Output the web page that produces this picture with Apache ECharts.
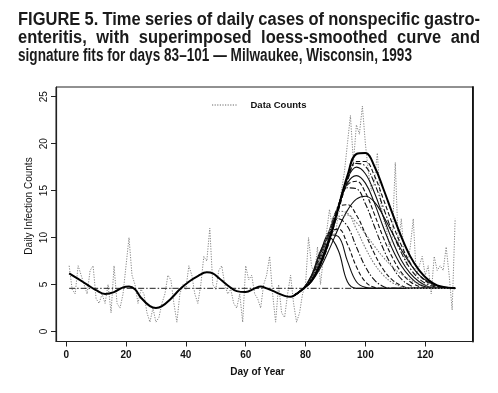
<!DOCTYPE html>
<html><head><meta charset="utf-8">
<script src="https://cdn.jsdelivr.net/npm/echarts@6/dist/echarts.min.js"></script>
<style>html,body{margin:0;padding:0;background:#fff}#c{width:498px;height:393px}</style>
</head><body><div id="c"></div>
<script>
// ---------- data ----------
const titleLines = [
  "FIGURE 5. Time series of daily cases of nonspecific gastro-",
  "enteritis, with superimposed loess-smoothed curve and",
  "signature fits for days 83\u2013101 \u2014 Milwaukee, Wisconsin, 1993"
];
const xTicks = [0, 20, 40, 60, 80, 100, 120];
const yTicks = [0, 5, 10, 15, 20, 25];
const xName = "Day of Year";
const yName = "Daily Infection Counts";
const legendName = "Data Counts";

// daily counts, days 1..130
const countDays = [];
for (let d = 1; d <= 130; d++) countDays.push(d);
const counts = [
  7, 4.5, 4, 7, 6, 5, 4, 6.5, 7, 3.5,
  3, 4, 3, 5, 2, 7, 3, 2.5, 4, 7,
  10, 6, 5, 3, 4.5, 4, 2, 1, 2.5, 1,
  1.5, 3, 4, 6, 5.5, 3, 1, 4, 5, 4.5,
  7, 6, 4, 3, 5, 8, 7.5, 11, 5, 4.5,
  6.5, 7, 5, 4, 4.5, 3, 2.5, 4, 1, 7,
  5.5, 6, 4, 3.5, 2.5, 5, 6, 8, 4, 1,
  5, 2, 1.5, 4, 6, 3, 1, 2, 4, 5,
  10, 7, 6, 9, 5, 8, 10.5, 13, 11, 10,
  13, 15, 17, 20, 23, 18, 22, 21, 24, 20,
  17, 15, 16, 19, 14, 12, 11, 9, 10, 18,
  9, 12, 8, 7, 9, 12, 6, 7, 8, 6,
  7, 4, 8, 6.5, 7, 6.5, 9, 6, 2.3, 12
];

// loess-smoothed curve
const loessDays = [1,4,7,10,13,16,19,21,23,25,28,30,32,35,38,41,44,47,49,51,54,57,60,63,65,67,70,73,75,76,79,82,85,88,91,94,97,100,103,106,109,112,115,118,121,124,127,130];
const loessVals = [6.2,5.6,5.0,4.4,4.0,4.2,4.7,4.8,4.5,3.6,2.7,2.5,2.7,3.5,4.5,5.3,5.9,6.3,6.2,5.7,4.9,4.3,4.2,4.6,4.8,4.6,4.2,3.8,3.7,3.8,4.5,5.4,7.2,9.8,13.2,16.6,18.9,19.0,17.6,15.2,12.6,10.1,8.0,6.5,5.5,4.9,4.7,4.6];

// baseline
const baseDays = [1, 130];
const baseVal = 4.6;

// signature fits (days 83-101)
const fitDays = [76,79,82,85,88,91,94,97,100,103,106,109,112,115,118,121,124,127,130];
const fitA = [3.8,4.5,5.4,7.1,9.6,12.9,16.0,18.1,18.1,16.6,14.1,11.5,9.2,7.3,6.0,5.2,4.8,4.6,4.6];
const fitB = [3.8,4.5,5.4,7.2,9.8,13.2,16.3,17.9,17.6,15.8,13.2,10.6,8.4,6.7,5.6,5.0,4.7,4.6,4.6];
const fitC = [3.8,4.5,5.5,7.3,10.0,13.4,16.3,17.5,16.8,14.8,12.2,9.7,7.6,6.2,5.3,4.8,4.6,4.6,4.6];
const fitD = [3.8,4.5,5.5,7.4,10.1,13.2,15.8,16.6,15.8,13.7,11.1,8.8,7.0,5.8,5.0,4.7,4.6,4.6,4.6];
const fitE = [3.8,4.5,5.5,7.5,10.3,13.4,15.6,16.0,14.8,12.5,10.0,7.9,6.3,5.3,4.8,4.6,4.6,4.6,4.6];
const fitF = [3.8,4.5,5.6,7.6,10.5,13.5,15.3,15.2,13.6,11.2,8.8,6.9,5.6,4.9,4.6,4.6,4.6,4.6,4.6];
const fitG = [3.8,4.5,5.3,6.8,8.8,11.0,12.9,14.1,14.4,13.8,12.3,10.5,8.7,7.2,6.0,5.3,4.9,4.7,4.6];
const fitH = [3.8,4.5,5.6,7.8,10.8,13.2,13.5,12.4,10.4,8.3,6.6,5.5,4.9,4.6,4.6,4.6,4.6,4.6,4.6];
const fitI = [3.8,4.5,5.6,7.7,10.3,12.2,12.4,11.6,10.4,9.1,7.9,6.9,6.1,5.5,5.1,4.8,4.6,4.6,4.6];
const fitJ = [3.8,4.5,5.7,8.0,10.8,12.0,11.2,9.0,6.9,5.5,4.8,4.6,4.6,4.6,4.6,4.6,4.6,4.6,4.6];
const fitK = [3.8,4.5,5.8,8.2,10.5,10.9,9.3,6.9,5.3,4.7,4.6,4.6,4.6,4.6,4.6,4.6,4.6,4.6,4.6];
const fitL = [3.8,4.5,5.9,8.4,10.3,10.1,7.5,5.3,4.7,4.6,4.6,4.6,4.6,4.6,4.6,4.6,4.6,4.6,4.6];
const fitM = [3.8,4.5,6.0,8.6,10.0,8.6,5.3,4.6,4.6,4.6,4.6,4.6,4.6,4.6,4.6,4.6,4.6,4.6,4.6];
const fitN = [3.8,4.5,5.6,7.9,10.9,12.8,12.6,10.9,8.9,7.2,6.0,5.2,4.8,4.6,4.6,4.6,4.6,4.6,4.6];

// ---------- build ----------
const FONT = '"Liberation Sans", Arial, Helvetica, sans-serif';
const DOTDASH = [6, 2, 1.5, 2];
const DOTS = [1.2, 1.4];
const fits = [
  {v: fitA, t: 'dashed', c: '#111'},
  {v: fitB, t: DOTDASH, c: '#111'},
  {v: fitC, t: 'solid', c: '#111'},
  {v: fitD, t: 'solid', c: '#111'},
  {v: fitE, t: 'dashed', c: '#111'},
  {v: fitF, t: DOTDASH, c: '#111'},
  {v: fitG, t: 'solid', c: '#111'},
  {v: fitH, t: 'dashed', c: '#111'},
  {v: fitI, t: [1.5, 1.5], c: '#777'},
  {v: fitJ, t: DOTDASH, c: '#111'},
  {v: fitK, t: 'dashed', c: '#111'},
  {v: fitL, t: 'solid', c: '#111'},
  {v: fitM, t: 'solid', c: '#111'},
  {v: fitN, t: [1.5, 1.5], c: '#777'}
];
const zip = (xs, ys) => xs.map((x, i) => [x, ys[i]]);

const series = [];
series.push({
  name: legendName, type: 'line', data: zip(countDays, counts),
  symbol: 'none', z: 1,
  lineStyle: {color: '#858585', width: 1, type: DOTS}
});
series.push({
  name: 'baseline', type: 'line', data: baseDays.map(d => [d, baseVal]),
  symbol: 'none', z: 2,
  lineStyle: {color: '#222', width: 1, type: DOTDASH}
});
fits.forEach((f, i) => series.push({
  name: 'fit' + i, type: 'line', data: zip(fitDays, f.v),
  symbol: 'none', smooth: 0.4, z: 3,
  lineStyle: {color: f.c, width: 1.1, type: f.t}
}));
series.push({
  name: 'loess', type: 'line', data: zip(loessDays, loessVals),
  symbol: 'none', smooth: 0.4, z: 4,
  lineStyle: {color: '#000', width: 2}
});

// title lines: word-by-word layout (lines 1-2 justified)
const ctx = document.createElement('canvas').getContext('2d');
const TFONT = 'bold 16.5px ' + FONT;
ctx.font = TFONT;
const mw = t => ctx.measureText(t).width;
const TL = 18;
const titleW = [462, 462, 394];
const titleY = [19.7, 38, 55.9];
const graphics = [];
titleLines.forEach((line, li) => {
  const words = line.split(' ');
  const raw = words.map(mw);
  const sum = raw.reduce((a, b) => a + b, 0);
  let g = 1, gap;
  if (li < 2) {
    g = Math.min(1, (titleW[li] - 3.5 * (words.length - 1)) / sum);
    gap = (titleW[li] - g * sum) / (words.length - 1);
  } else {
    gap = 3.8;
    g = Math.min(1, (titleW[li] - gap * (words.length - 1)) / sum);
  }
  let x = TL;
  words.forEach((w, k) => {
    graphics.push({type: 'text', x: x, y: titleY[li], scaleX: g, scaleY: 1.06,
      style: {text: w, font: TFONT, fill: '#1a1a1a', align: 'left', verticalAlign: 'middle'}});
    x += raw[k] * g + gap;
  });
});
graphics.push({type: 'text', x: 257.5, y: 372, style: {text: xName, font: 'bold 10px ' + FONT, fill: '#111', align: 'center', verticalAlign: 'middle'}});
graphics.push({type: 'text', x: 29, y: 206, rotation: Math.PI / 2, style: {text: yName, font: '10px ' + FONT, fill: '#111', align: 'center', verticalAlign: 'middle'}});
// legend
graphics.push({type: 'line', shape: {x1: 212, y1: 105, x2: 237, y2: 105}, style: {stroke: '#666', lineWidth: 1, lineDash: DOTS}});
graphics.push({type: 'text', x: 250.5, y: 105, style: {text: legendName, font: 'bold 9.5px ' + FONT, fill: '#111', align: 'left', verticalAlign: 'middle'}});

const chart = echarts.init(document.getElementById('c'), null, {renderer: 'canvas'});
chart.setOption({
  animation: false,
  backgroundColor: '#fff',
  textStyle: {fontFamily: FONT},
  grid: {left: 56, right: 25.5, top: 87, bottom: 51.5, show: true, borderColor: '#222', borderWidth: 1, backgroundColor: 'transparent'},
  xAxis: [{
    type: 'value', min: -3.4, max: 135.8,
    splitLine: {show: false},
    axisLine: {show: true, onZero: false, lineStyle: {color: '#222', width: 1.2}},
    axisTick: {show: true, inside: false, length: 5, customValues: xTicks, lineStyle: {color: '#222'}},
    axisLabel: {customValues: xTicks, fontSize: 10, fontWeight: 'bold', color: '#111', margin: 9, fontFamily: FONT}
  }],
  yAxis: [{
    type: 'value', min: -1.06, max: 26.03,
    splitLine: {show: false},
    axisLine: {show: true, onZero: false, lineStyle: {color: '#222', width: 1.2}},
    axisTick: {show: true, inside: false, length: 5, customValues: yTicks, lineStyle: {color: '#222'}},
    axisLabel: {customValues: yTicks, rotate: 90, fontSize: 10, color: '#111', margin: 7, fontFamily: FONT}
  }, {
    type: 'value', min: -1.06, max: 26.03, position: 'right',
    splitLine: {show: false},
    axisLine: {show: true, onZero: false, lineStyle: {color: '#111', width: 1.8}},
    axisTick: {show: false}, axisLabel: {show: false}
  }],
  graphic: graphics,
  series: series
});
</script>
</body></html>
